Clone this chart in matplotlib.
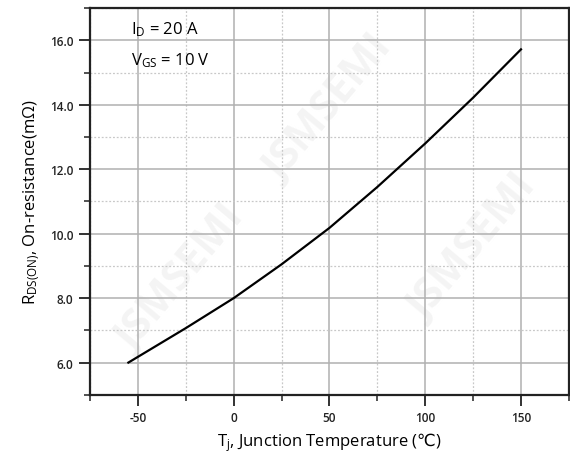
import matplotlib
matplotlib.use("Agg")
import matplotlib.pyplot as plt
from matplotlib.ticker import MultipleLocator

plt.rcParams['font.family'] = ['Open Sans', 'DejaVu Sans']
plt.rcParams['mathtext.fontset'] = 'custom'
plt.rcParams['mathtext.rm'] = 'Open Sans'
plt.rcParams['mathtext.it'] = 'Open Sans:italic'
plt.rcParams['mathtext.sf'] = 'DejaVu Sans'

# junction temperature (C) vs on-resistance (mOhm)
temp = [-55, -25, 0, 25, 50, 75, 100, 125, 150]
rds = [6.0, 7.07, 8.0, 9.05, 10.18, 11.45, 12.8, 14.22, 15.72]

xticks = [-50, 0, 50, 100, 150]
yticks = [6.0, 8.0, 10.0, 12.0, 14.0, 16.0]

fig = plt.figure(figsize=(5.7, 4.56), dpi=100)
ax = fig.add_axes([0.158, 0.132, 0.84, 0.848])

# faint watermark behind the grid
for (wx, wy) in [(0.19, 0.3), (0.5, 0.74), (0.8, 0.38)]:
    ax.text(wx, wy, 'JSMSEMI', transform=ax.transAxes, fontsize=30, color='#f4f4f4',
            rotation=50, ha='center', va='center', fontweight='bold', zorder=0.1)

ax.plot(temp, rds, color='black', lw=1.6, zorder=3)

ax.set_xlim(-75, 175)
ax.set_ylim(5, 17)
ax.set_xticks(xticks)
ax.set_xticklabels([str(t) for t in xticks])
ax.set_yticks(yticks)
ax.set_yticklabels(['%.1f' % v for v in yticks])
ax.xaxis.set_minor_locator(MultipleLocator(25))
ax.yaxis.set_minor_locator(MultipleLocator(1))

ax.grid(which='major', color='#b0b0b0', lw=1.1, ls='-', zorder=1)
ax.grid(which='minor', color='#c8c8c8', lw=0.9, ls=(0, (1.5, 1.5)), zorder=1)
ax.set_axisbelow(True)

for s in ax.spines.values():
    s.set_linewidth(1.6)
    s.set_color('#222222')

ax.tick_params(which='major', direction='out', length=8, width=1.3, labelsize=8.5,
               colors='#222222', pad=4)
ax.tick_params(which='minor', direction='out', length=4, width=1.1, colors='#222222')
for lab in ax.get_xticklabels() + ax.get_yticklabels():
    lab.set_fontweight('semibold')

ax.set_xlabel(r'$\mathrm{T_{j}}$, Junction Temperature ($\mathsf{℃}$)', fontsize=12, labelpad=4)
ax.set_ylabel(r'$\mathrm{R_{DS(ON)}}$, On-resistance(mΩ)', fontsize=12, labelpad=6)

ax.text(0.086, 0.946, r'$\mathrm{I_{D}}$ = 20 A', transform=ax.transAxes, fontsize=12,
        va='center', ha='left', zorder=4)
ax.text(0.086, 0.868, r'$\mathrm{V_{GS}}$ = 10 V', transform=ax.transAxes, fontsize=12,
        va='center', ha='left', zorder=4)

fig.savefig('out.png', dpi=100)
